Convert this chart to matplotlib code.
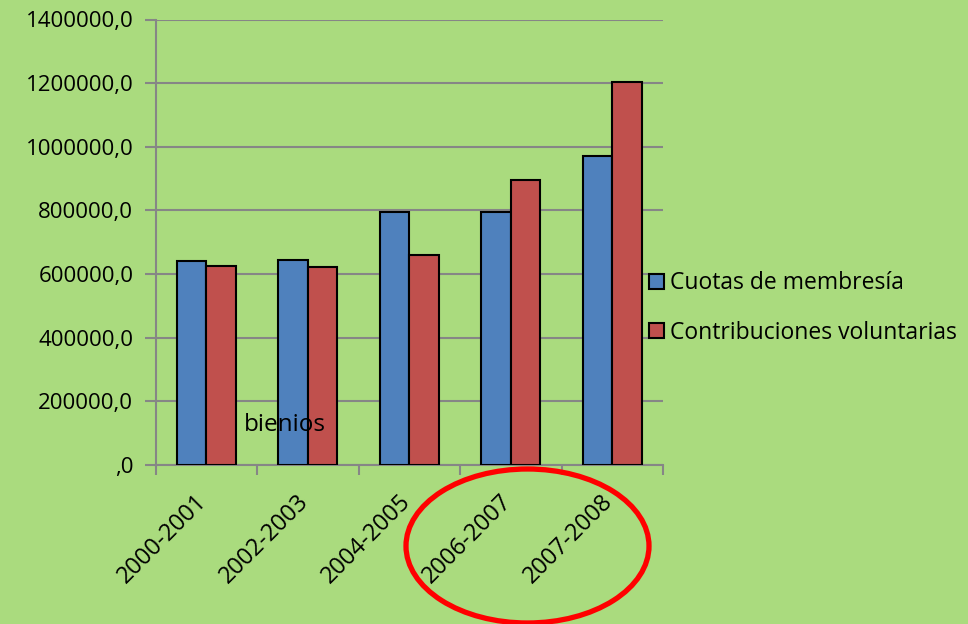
import matplotlib
matplotlib.use("Agg")
import matplotlib.pyplot as plt
from matplotlib.patches import Ellipse, Patch
from matplotlib.ticker import FuncFormatter
from matplotlib.transforms import ScaledTranslation
import numpy as np

# datos
bienios = ['2000-2001', '2002-2003', '2004-2005', '2006-2007', '2007-2008']
cuotas = [642000, 644000, 795000, 795000, 971000]
contribuciones = [626000, 623000, 660000, 896000, 1203000]
series = ['Cuotas de membresía', 'Contribuciones voluntarias']

fondo = '#AADB7E'
azul = '#4F81BD'
rojo = '#C0504D'
gris = '#868686'

plt.rcParams['font.family'] = ['Open Sans', 'DejaVu Sans']

fig = plt.figure(figsize=(9.68, 6.24), dpi=100, facecolor=fondo)
ax = fig.add_axes([155.5 / 968, 1 - 465 / 624, (663 - 155.5) / 968, (465 - 19.5) / 624])
ax.set_facecolor(fondo)

x = np.arange(len(bienios))
w = 0.29
ax.bar(x - w / 2, cuotas, w, color=azul, edgecolor='black', linewidth=1.5, zorder=3)
ax.bar(x + w / 2, contribuciones, w, color=rojo, edgecolor='black', linewidth=1.5, zorder=3)

ax.set_xlim(-0.5, len(bienios) - 0.5)
ax.set_ylim(0, 1400000)
ax.set_yticks(np.arange(0, 1400001, 200000))

def fmt(v, pos):
    if v == 0:
        return ',0'
    return '%d,0' % v

ax.yaxis.set_major_formatter(FuncFormatter(fmt))
ax.grid(axis='y', color=gris, linewidth=1.5, zorder=0)

ax.set_xticks(np.arange(-0.5, len(bienios), 1.0))
ax.set_xticklabels([])
ax.set_xticks(x, minor=True)
ax.set_xticklabels(bienios, minor=True, rotation=45, ha='right',
                   rotation_mode='anchor', fontsize=17)
ax.tick_params(axis='x', which='minor', length=0, pad=12)
ax.tick_params(axis='x', which='major', length=7, width=1.5, color=gris)
ax.tick_params(axis='y', length=8, width=1.5, color=gris, labelsize=16, pad=8)

desplaza = ScaledTranslation(-0.11, -0.08, fig.dpi_scale_trans)
for lab in ax.get_xticklabels(minor=True):
    lab.set_transform(lab.get_transform() + desplaza)

for s in ['top', 'right']:
    ax.spines[s].set_visible(False)
for s in ['left', 'bottom']:
    ax.spines[s].set_color(gris)
    ax.spines[s].set_linewidth(1.5)

ax.text(0.175, 0.09, 'bienios', transform=ax.transAxes, fontsize=17.5,
        ha='left', va='center', zorder=5)

handles = [Patch(facecolor=azul, edgecolor='black', linewidth=1.5),
           Patch(facecolor=rojo, edgecolor='black', linewidth=1.5)]
fig.legend(handles, series, loc='center left',
           bbox_to_anchor=(628 / 968, 1 - 308 / 624), frameon=False,
           fontsize=16.5, handlelength=0.65, handleheight=0.65,
           handletextpad=0.3, labelspacing=1.1)

circ = Ellipse((527.5 / 968, 1 - 546 / 624), 243 / 968, 154 / 624,
               transform=fig.transFigure, fill=False, edgecolor='red',
               linewidth=3.8, zorder=10)
fig.patches.append(circ)

fig.savefig('out.png', dpi=100, facecolor=fondo)
